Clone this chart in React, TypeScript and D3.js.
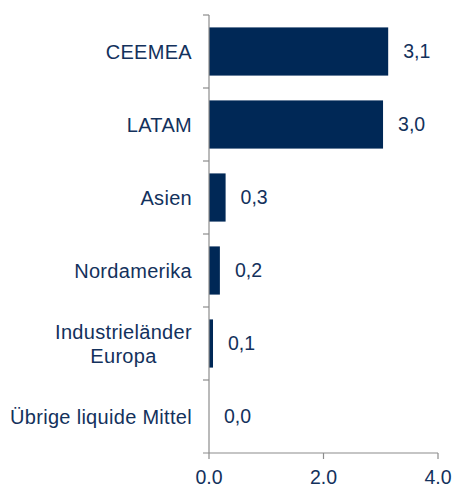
import React from "react";
import * as d3 from "d3";

const categories: string[][] = [
  ["CEEMEA"],
  ["LATAM"],
  ["Asien"],
  ["Nordamerika"],
  ["Industrieländer", "Europa"],
  ["Übrige liquide Mittel"],
];
const values: number[] = [3.13, 3.04, 0.29, 0.19, 0.07, 0.0];
const xTicks: number[] = [0, 2, 4];

const W = 454;
const H = 486;
const margin = { top: 15, right: 16, bottom: 33, left: 209 };
const barColor = "#002856";
const textColor = "#13315c";
const axisColor = "#8c8c8c";
const font = "'Liberation Sans', Arial, sans-serif";
const fs = 19.5;
const catFs = 20;
const catLs = 0.3;

const fmt = (v: number) => v.toFixed(1).replace(".", ",");

export default function App() {
  const x = d3.scaleLinear().domain([0, 4]).range([margin.left, 438]);
  const ids = categories.map((_, i) => String(i));
  const y = d3
    .scaleBand<string>()
    .domain(ids)
    .range([margin.top, H - margin.bottom])
    .paddingInner(0.34)
    .paddingOuter(0.17);
  const step = y.step();
  const boundaries = d3.range(categories.length + 1).map((i) => margin.top + i * step);
  const y0 = H - margin.bottom;
  const labelRight = 192;

  return (
    <svg width={W} height={H} style={{ position: "absolute", left: 0, top: 0 }}>
      <rect width={W} height={H} fill="#fff" />
      {values.map((v, i) => (
        <rect
          key={i}
          x={x(0)}
          y={y(String(i))!}
          width={x(v) - x(0)}
          height={y.bandwidth()}
          fill={barColor}
        />
      ))}
      {/* axes */}
      <line x1={x(0)} x2={x(0)} y1={margin.top} y2={y0} stroke={axisColor} strokeWidth={1.2} />
      {boundaries.slice(0, -1).map((b, i) => (
        <line key={i} x1={x(0) - 6} x2={x(0)} y1={b} y2={b} stroke={axisColor} strokeWidth={1.2} />
      ))}
      <line x1={x(0) - 6} x2={x(4)} y1={y0} y2={y0} stroke={axisColor} strokeWidth={1.2} />
      {xTicks.map((t) => (
        <g key={t}>
          <line x1={x(t)} x2={x(t)} y1={y0} y2={y0 + 6} stroke={axisColor} strokeWidth={1.2} />
          <text
            x={x(t)}
            y={y0 + 31}
            textAnchor="middle"
            fontFamily={font}
            fontSize={fs}
            fill={textColor}
          >
            {t.toFixed(1)}
          </text>
        </g>
      ))}
      {/* category labels */}
      {categories.map((lines, i) => {
        const cy = y(String(i))! + y.bandwidth() / 2;
        const lh = 24;
        const startY = cy - ((lines.length - 1) * lh) / 2;
        if (lines.length === 1) {
          return (
            <text
              key={i}
              x={labelRight}
              y={cy}
              dy="0.35em"
              textAnchor="end"
              fontFamily={font}
              fontSize={catFs}
              letterSpacing={catLs}
              fill={textColor}
            >
              {lines[0]}
            </text>
          );
        }
        return (
          <text
            key={i}
            fontFamily={font}
            fontSize={catFs}
            letterSpacing={catLs}
            fill={textColor}
            textAnchor="middle"
          >
            {lines.map((l, j) => (
              <tspan key={j} x={123.5} y={startY + j * lh} dy="0.35em">
                {l}
              </tspan>
            ))}
          </text>
        );
      })}
      {/* value labels */}
      {values.map((v, i) => (
        <text
          key={i}
          x={x(v) + 15}
          y={y(String(i))! + y.bandwidth() / 2}
          dy="0.35em"
          fontFamily={font}
          fontSize={fs}
          fill={textColor}
        >
          {fmt(v)}
        </text>
      ))}
    </svg>
  );
}
